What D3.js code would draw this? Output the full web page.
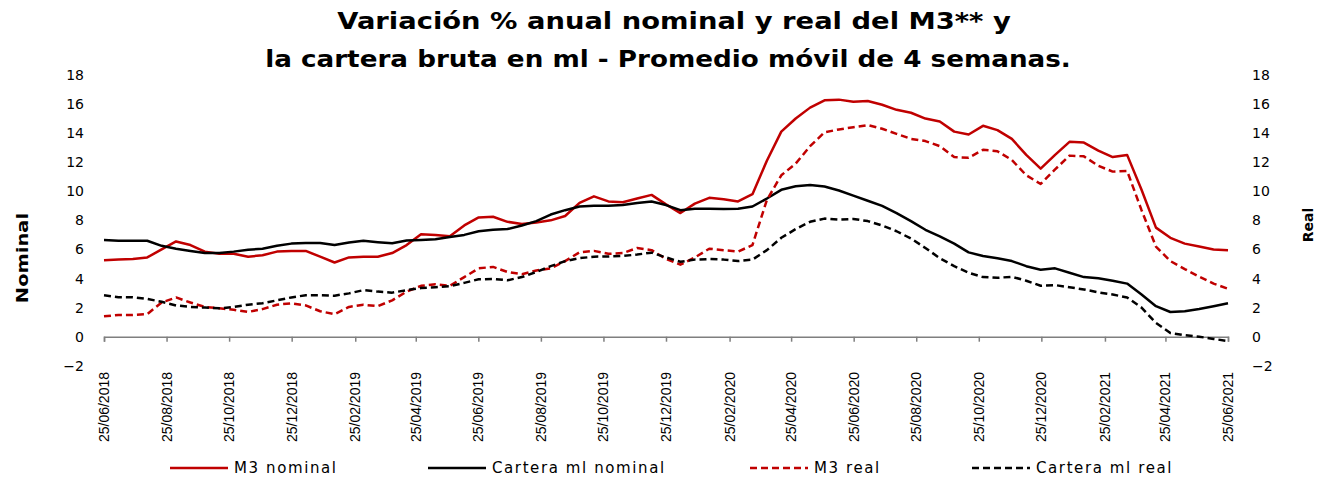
<!DOCTYPE html>
<html>
<head>
<meta charset="utf-8">
<script src="https://cdn.jsdelivr.net/npm/d3@7"></script>
<style>
  body { margin: 0; background: #fff; }
  svg { display: block; }
</style>
</head>
<body>
<div id="chart"></div>
<script>
// Data (one point every two weeks)
const startDate = "25/06/2018";
const endDate = "25/06/2021";
const m3Nominal = [5.25,5.3,5.35,5.45,6.0,6.55,6.3,5.85,5.7,5.7,
  5.5,5.6,5.85,5.9,5.9,5.5,5.1,5.45,5.5,5.5,
  5.75,6.3,7.05,7.0,6.9,7.65,8.2,8.25,7.9,7.75,
  7.85,8.0,8.3,9.2,9.65,9.3,9.25,9.5,9.75,9.1,
  8.5,9.15,9.55,9.45,9.3,9.8,12.1,14.1,15.0,15.75,
  16.25,16.3,16.15,16.2,15.95,15.6,15.4,15.0,14.8,14.1,
  13.9,14.5,14.2,13.6,12.5,11.55,12.5,13.4,13.35,12.8,
  12.35,12.5,10.1,7.5,6.8,6.4,6.2,6.0,5.95];
const carteraNominal = [6.65,6.6,6.6,6.6,6.25,6.05,5.9,5.75,5.75,5.85,
  5.98,6.05,6.25,6.4,6.45,6.45,6.3,6.47,6.6,6.5,
  6.42,6.62,6.65,6.7,6.85,7.0,7.25,7.35,7.4,7.65,
  7.95,8.4,8.7,8.95,9.0,9.0,9.05,9.2,9.3,9.05,
  8.7,8.8,8.8,8.78,8.8,8.95,9.5,10.1,10.35,10.43,
  10.33,10.05,9.7,9.35,9.0,8.5,7.95,7.35,6.9,6.4,
  5.8,5.55,5.4,5.2,4.85,4.6,4.7,4.4,4.1,4.02,
  3.85,3.65,2.9,2.1,1.7,1.75,1.9,2.1,2.3];
const m3Real = [1.4,1.5,1.5,1.55,2.35,2.7,2.35,2.05,1.95,1.85,
  1.7,1.9,2.2,2.3,2.15,1.75,1.55,2.05,2.2,2.1,
  2.5,3.1,3.5,3.6,3.5,4.1,4.7,4.8,4.45,4.3,
  4.55,4.7,5.2,5.8,5.9,5.7,5.75,6.1,5.95,5.35,
  4.95,5.45,6.05,5.95,5.85,6.3,9.4,11.1,11.9,13.1,
  14.05,14.25,14.4,14.55,14.3,13.95,13.6,13.45,13.1,12.35,
  12.3,12.85,12.75,12.15,11.1,10.5,11.5,12.45,12.4,11.75,
  11.35,11.4,8.7,6.2,5.2,4.65,4.13,3.65,3.3];
const carteraReal = [2.85,2.72,2.72,2.6,2.4,2.15,2.05,2.0,1.95,2.05,
  2.2,2.3,2.5,2.7,2.85,2.85,2.82,2.98,3.2,3.1,
  3.03,3.2,3.35,3.4,3.47,3.7,3.95,3.97,3.88,4.1,
  4.45,4.85,5.2,5.4,5.5,5.52,5.55,5.65,5.78,5.45,
  5.15,5.3,5.34,5.3,5.2,5.3,5.95,6.8,7.4,7.9,
  8.12,8.05,8.1,7.95,7.65,7.25,6.75,6.1,5.4,4.85,
  4.4,4.1,4.05,4.12,3.85,3.5,3.55,3.4,3.25,3.05,
  2.9,2.7,2.0,0.95,0.25,0.1,0.0,-0.15,-0.3];
const tickLabels = ["25/06/2018","25/08/2018","25/10/2018","25/12/2018","25/02/2019",
  "25/04/2019","25/06/2019","25/08/2019","25/10/2019","25/12/2019","25/02/2020",
  "25/04/2020","25/06/2020","25/08/2020","25/10/2020","25/12/2020","25/02/2021",
  "25/04/2021","25/06/2021"];
const yTicks = [-2, 0, 2, 4, 6, 8, 10, 12, 14, 16, 18];
const seriesNames = ["M3 nominal", "Cartera ml nominal", "M3 real", "Cartera ml real"];
const titleLines = ["Variación % anual nominal y real del M3** y",
  "la cartera bruta en ml - Promedio móvil de 4 semanas."];

const red = "#c00000";
const width = 1326, height = 481;

const parse = d3.timeParse("%d/%m/%Y");
const t0 = parse(startDate), t1 = parse(endDate);
const nPts = m3Nominal.length;
const dates = d3.range(nPts).map(i => new Date(+t0 + (t1 - t0) * i / (nPts - 1)));

const series = [
  { name: seriesNames[0], values: m3Nominal, color: red, dash: null },
  { name: seriesNames[1], values: carteraNominal, color: "#000", dash: null },
  { name: seriesNames[2], values: m3Real, color: red, dash: "7,4" },
  { name: seriesNames[3], values: carteraReal, color: "#000", dash: "7,4" }
];

const svg = d3.select("#chart").append("svg")
  .attr("width", width)
  .attr("height", height);

const x = d3.scaleTime().domain([t0, t1]).range([104, 1228]);
const y = d3.scaleLinear().domain([-2, 18]).range([365.8, 74.9]);

// Title (stretched horizontally like the original)
const titlePos = [{ cx: 674, y: 29, sx: 1.19 }, { cx: 668, y: 67, sx: 1.14 }];
svg.append("g")
  .selectAll("text")
  .data(titleLines)
  .join("text")
  .attr("transform", (d, i) => `translate(${titlePos[i].cx},${titlePos[i].y}) scale(${titlePos[i].sx},1)`)
  .attr("text-anchor", "middle")
  .style("font-family", "DejaVu Sans, Verdana, sans-serif")
  .style("font-weight", "bold")
  .style("font-size", "23px")
  .text(d => d);

// Left axis labels
const yAxisL = d3.axisLeft(y).tickValues(yTicks).tickSize(0).tickPadding(0);
svg.append("g")
  .attr("transform", "translate(84,0)")
  .call(yAxisL)
  .call(g => g.select(".domain").remove())
  .call(g => g.selectAll("text")
    .style("font-family", "DejaVu Sans, Verdana, sans-serif")
    .style("font-size", "14px")
    .attr("fill", "#000"));

// Right axis labels
const yAxisR = d3.axisRight(y).tickValues(yTicks).tickSize(0).tickPadding(0);
svg.append("g")
  .attr("transform", "translate(1252,0)")
  .call(yAxisR)
  .call(g => g.select(".domain").remove())
  .call(g => g.selectAll("text")
    .style("font-family", "DejaVu Sans, Verdana, sans-serif")
    .style("font-size", "14px")
    .attr("fill", "#000"));

// Axis titles
svg.append("text")
  .attr("transform", "translate(28,258) rotate(-90) scale(1.3,1)")
  .attr("text-anchor", "middle")
  .style("font-family", "DejaVu Sans, Verdana, sans-serif")
  .style("font-weight", "bold")
  .style("font-size", "15px")
  .text("Nominal");

svg.append("text")
  .attr("transform", "translate(1313,225) rotate(-90)")
  .attr("text-anchor", "middle")
  .style("font-family", "DejaVu Sans, Verdana, sans-serif")
  .style("font-weight", "bold")
  .style("font-size", "14px")
  .text("Real");

// X axis on the zero line
const xAxis = d3.axisBottom(x)
  .tickValues(tickLabels.map(parse))
  .tickSize(5)
  .tickFormat("");
svg.append("g")
  .attr("transform", `translate(0,${y(0)})`)
  .call(xAxis)
  .call(g => g.select(".domain").attr("stroke", "#7f7f7f").attr("stroke-width", 1.5))
  .call(g => g.selectAll(".tick line").attr("stroke", "#7f7f7f").attr("stroke-width", 1.5));

// X tick labels, rotated, below the plot
svg.append("g")
  .selectAll("text")
  .data(tickLabels)
  .join("text")
  .attr("transform", d => `translate(${x(parse(d)) + 5},372) rotate(-90)`)
  .attr("text-anchor", "end")
  .style("font-family", "Liberation Sans, Arial, sans-serif")
  .style("font-size", "14px")
  .text(d => d);

// Lines
const line = d3.line()
  .x((d, i) => x(dates[i]))
  .y(d => y(d));

svg.append("g")
  .selectAll("path")
  .data(series)
  .join("path")
  .attr("d", d => line(d.values))
  .attr("fill", "none")
  .attr("stroke", d => d.color)
  .attr("stroke-width", 2.5)
  .attr("stroke-dasharray", d => d.dash)
  .attr("stroke-linejoin", "round");

// Legend
const legendX = [170, 428, 750, 972];
const legend = svg.append("g")
  .selectAll("g")
  .data(series)
  .join("g")
  .attr("transform", (d, i) => `translate(${legendX[i]},468)`);

legend.append("line")
  .attr("x1", 0).attr("x2", 58)
  .attr("stroke", d => d.color)
  .attr("stroke-width", 2.5)
  .attr("stroke-dasharray", d => d.dash);

legend.append("text")
  .attr("x", 64)
  .attr("dy", "0.35em")
  .style("font-family", "DejaVu Sans, Verdana, sans-serif")
  .style("font-size", "15px")
  .style("letter-spacing", "1.6px")
  .text(d => d.name);
</script>
</body>
</html>
